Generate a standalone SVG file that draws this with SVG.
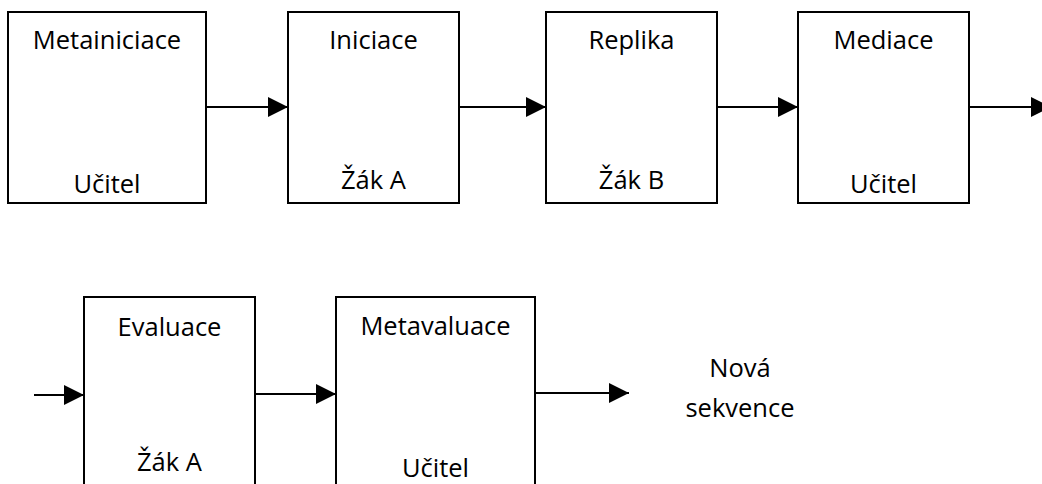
<svg xmlns="http://www.w3.org/2000/svg" width="1042" height="484" viewBox="0 0 1042 484">
<style>
.box{fill:#fff;stroke:#000;stroke-width:2}
.t{font-family:"Open Sans","Liberation Sans",sans-serif;font-size:25.5px;fill:#000;text-anchor:middle}
.c{stroke:#000;stroke-width:2;fill:none;marker-end:url(#ah)}
</style>
<defs>
<marker id="ah" markerUnits="userSpaceOnUse" markerWidth="20" markerHeight="20" refX="20" refY="10" orient="auto">
<path d="M0,0 L20,10 L0,20 z" fill="#000"/>
</marker>
</defs>
<rect width="1042" height="484" fill="#fff"/>
<g id="metainiciace">
<rect class="box" x="8" y="12" width="198" height="191"/>
<text class="t" x="107" y="49">Metainiciace</text>
<text class="t" x="107" y="193">Učitel</text>
</g>
<g id="iniciace">
<rect class="box" x="288" y="12" width="171" height="191"/>
<text class="t" x="373.5" y="49">Iniciace</text>
<text class="t" x="373.5" y="189">Žák A</text>
</g>
<g id="replika">
<rect class="box" x="546" y="12" width="171" height="191"/>
<text class="t" x="631.5" y="49">Replika</text>
<text class="t" x="631.5" y="189">Žák B</text>
</g>
<g id="mediace">
<rect class="box" x="798" y="12" width="171" height="191"/>
<text class="t" x="883.5" y="49">Mediace</text>
<text class="t" x="883.5" y="193">Učitel</text>
</g>
<g id="evaluace">
<rect class="box" x="84" y="297" width="171" height="210"/>
<text class="t" x="169.5" y="336">Evaluace</text>
<text class="t" x="169.5" y="471">Žák A</text>
</g>
<g id="metavaluace">
<rect class="box" x="336" y="297" width="199" height="210"/>
<text class="t" x="435.5" y="335">Metavaluace</text>
<text class="t" x="435.5" y="477">Učitel</text>
</g>
<g id="nova-sekvence">
<text class="t" x="740" y="377">Nová</text>
<text class="t" x="740" y="417">sekvence</text>
</g>
<g id="connectors">
<path class="c" d="M206,107 L288,107"/>
<path class="c" d="M459,107 L546,107"/>
<path class="c" d="M717,107 L798,107"/>
<path class="c" d="M969,107 L1051,107"/>
<path class="c" d="M34,395 L84,395"/>
<path class="c" d="M255,394 L336,394"/>
<path class="c" d="M535,393 L629,393"/>
</g>
</svg>
